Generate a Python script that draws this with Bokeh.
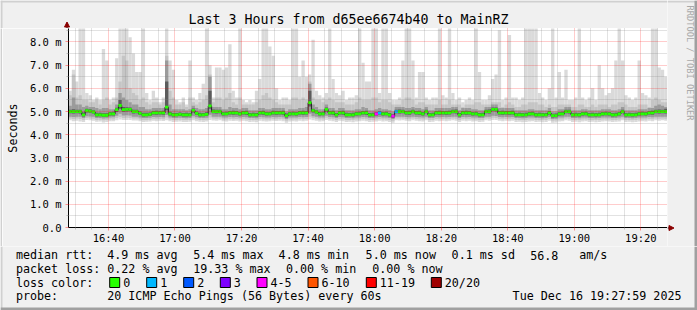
import math
import datetime as dt
from bokeh.plotting import figure
from bokeh.layouts import column, row
from bokeh.models import FixedTicker, DatetimeTickFormatter, Range1d, ColumnDataSource
from bokeh.core.properties import value
from bokeh.embed import file_html
from bokeh.resources import INLINE

# ---------------- data ----------------
TITLE = "Last 3 Hours from d65ee6674b40 to MainRZ"
WATERMARK = "RRDTOOL / TOBI OETIKER"
Y_LABEL = "Seconds"
START = dt.datetime(2025, 12, 16, 16, 28, 0)
STEP_SECONDS = 60
N_STEPS = 180

x_tick_labels = ["16:40", "17:00", "17:20", "17:40", "18:00", "18:20", "18:40", "19:00", "19:20"]
y_tick_values = [0, 1, 2, 3, 4, 5, 6, 7, 8]
y_tick_labels = ["0.0", "1.0 m", "2.0 m", "3.0 m", "4.0 m", "5.0 m", "6.0 m", "7.0 m", "8.0 m"]

# median round trip time per step (ms)
median_ms = [
    5.00, 5.00, 5.00, 5.00, 4.86, 5.04, 5.02, 4.98, 4.86, 4.86,
    4.84, 4.84, 4.90, 4.90, 5.08, 5.26, 5.08, 5.09, 5.09, 5.00,
    5.00, 4.92, 4.86, 4.86, 4.88, 4.94, 4.94, 4.94, 4.94, 5.19,
    4.90, 4.86, 4.86, 4.88, 4.86, 4.86, 4.86, 5.05, 4.92, 4.86,
    4.86, 4.88, 5.24, 5.00, 5.00, 5.00, 4.90, 4.90, 4.94, 4.94,
    4.94, 4.90, 4.94, 4.94, 4.86, 4.86, 4.86, 4.94, 4.94, 4.90,
    4.90, 4.94, 4.94, 4.94, 4.94, 4.82, 4.90, 4.90, 4.90, 4.94,
    4.94, 4.94, 5.38, 5.04, 4.98, 4.90, 4.90, 5.09, 4.94, 4.94,
    4.86, 4.94, 4.94, 4.86, 4.86, 4.86, 4.90, 4.90, 4.94, 4.94,
    4.86, 4.86, 4.90, 4.94, 4.90, 4.90, 4.86, 4.80, 5.00, 5.00,
    5.00, 4.94, 4.94, 5.00, 4.94, 4.94, 4.90, 5.00, 4.86, 4.86,
    4.94, 4.94, 4.94, 4.94, 4.94, 5.00, 5.00, 4.86, 4.94, 4.94,
    4.94, 4.90, 4.90, 4.86, 4.86, 5.00, 5.00, 5.09, 5.09, 4.94,
    4.94, 4.94, 4.94, 4.94, 4.86, 4.86, 4.86, 4.86, 4.90, 4.90,
    4.86, 4.86, 4.86, 4.86, 4.94, 4.82, 4.82, 4.90, 4.90, 5.00,
    5.00, 4.86, 4.86, 4.86, 4.90, 4.90, 4.86, 4.86, 4.86, 4.86,
    4.90, 4.90, 4.90, 4.86, 4.86, 4.90, 5.00, 4.86, 4.86, 4.86,
    4.86, 4.90, 4.90, 4.90, 4.94, 4.94, 5.00, 5.00, 5.00, 5.00,
]

# lost packets (of 20) at the steps where loss occurred
loss_events = {92: 4, 93: 1, 97: 4, 98: 1}

# smoke: highest ping per step (lightest band top), ms
smoke_max = [
    5.9, 6.8, 6.3, 9.0, 9.0, 5.8, 5.7, 5.5, 5.6, 5.5,
    7.7, 7.2, 5.5, 5.6, 7.3, 9.0, 9.0, 9.0, 8.2, 7.5,
    6.7, 6.7, 9.0, 5.8, 5.5, 5.9, 5.6, 5.4, 5.6, 9.0,
    7.2, 6.8, 5.5, 5.4, 5.6, 5.3, 7.2, 5.6, 5.5, 5.8,
    6.2, 9.0, 7.0, 5.6, 6.9, 6.9, 6.8, 6.9, 7.9, 5.9,
    5.6, 9.0, 5.5, 5.4, 5.5, 5.4, 5.9, 6.4, 9.0, 9.0,
    7.8, 7.4, 6.0, 5.5, 5.6, 5.6, 5.5, 9.0, 9.0, 6.5,
    7.2, 6.5, 6.6, 8.1, 5.9, 5.7, 5.6, 5.8, 9.0, 6.4,
    5.8, 5.7, 5.9, 5.5, 5.6, 5.6, 5.7, 9.0, 7.1, 6.3,
    6.3, 9.0, 9.0, 5.8, 9.0, 9.0, 5.8, 5.5, 5.5, 5.6,
    7.2, 9.0, 9.0, 7.2, 5.6, 6.7, 6.7, 5.6, 5.5, 5.6,
    5.6, 9.0, 5.7, 5.6, 9.0, 5.8, 5.5, 5.6, 5.4, 5.5,
    5.6, 5.5, 9.0, 6.7, 5.5, 5.5, 5.7, 6.4, 6.6, 8.5,
    5.5, 5.6, 8.3, 5.6, 5.6, 5.5, 5.6, 9.0, 9.0, 9.0,
    9.0, 5.8, 5.6, 5.5, 6.0, 9.0, 5.6, 6.7, 5.6, 6.8,
    5.5, 5.5, 5.6, 9.0, 5.6, 5.5, 5.6, 6.0, 5.5, 7.0,
    6.0, 5.7, 5.8, 6.0, 7.2, 9.0, 7.2, 5.7, 5.6, 5.5,
    5.6, 7.2, 5.8, 5.7, 5.6, 9.0, 9.0, 6.9, 6.8, 6.5,
]
# second band top
smoke_hi2 = [
    5.7, 6.6, 5.6, 5.7, 5.5, 5.5, 5.4, 5.4, 5.5, 5.3,
    5.5, 5.6, 5.3, 5.4, 5.6, 6.3, 7.4, 7.2, 6.0, 5.8,
    5.7, 5.5, 5.6, 5.4, 5.3, 5.4, 5.4, 5.3, 5.4, 7.4,
    5.9, 5.6, 5.3, 5.3, 5.4, 5.2, 5.6, 5.4, 5.3, 5.4,
    5.5, 5.7, 6.6, 5.4, 5.6, 5.6, 5.5, 5.6, 5.8, 5.4,
    5.3, 5.6, 5.3, 5.3, 5.3, 5.3, 5.4, 5.5, 5.7, 5.8,
    5.6, 5.5, 5.4, 5.3, 5.3, 5.3, 5.3, 5.6, 5.6, 5.5,
    5.6, 5.5, 6.3, 5.6, 5.5, 5.5, 5.4, 5.5, 5.6, 5.5,
    5.4, 5.4, 5.4, 5.3, 5.3, 5.3, 5.4, 5.6, 5.5, 5.5,
    5.5, 5.6, 5.6, 5.4, 5.5, 5.5, 5.4, 5.3, 5.3, 5.3,
    5.5, 5.6, 5.6, 5.5, 5.3, 5.4, 5.4, 5.3, 5.3, 5.3,
    5.3, 5.5, 5.3, 5.3, 5.5, 5.3, 5.3, 5.3, 5.2, 5.3,
    5.3, 5.3, 5.4, 5.4, 5.3, 5.3, 5.3, 5.4, 5.4, 5.4,
    5.2, 5.3, 5.4, 5.3, 5.2, 5.2, 5.3, 5.3, 5.4, 5.4,
    5.4, 5.3, 5.3, 5.2, 5.3, 5.2, 5.2, 5.3, 5.3, 5.3,
    5.3, 5.2, 5.2, 5.3, 5.3, 5.2, 5.2, 5.3, 5.2, 5.3,
    5.3, 5.3, 5.2, 5.3, 5.3, 5.4, 5.4, 5.3, 5.2, 5.2,
    5.2, 5.3, 5.3, 5.3, 5.2, 5.5, 5.6, 5.5, 5.4, 5.4,
]
# third band top
smoke_hi3 = [
    5.25, 5.6, 5.3, 5.3, 5.2, 5.25, 5.2, 5.2, 5.15, 5.1,
    5.15, 5.15, 5.1, 5.1, 5.3, 5.8, 5.6, 5.5, 5.4, 5.3,
    5.3, 5.2, 5.2, 5.1, 5.1, 5.15, 5.15, 5.15, 5.15, 7.2,
    5.3, 5.1, 5.1, 5.1, 5.1, 5.05, 5.1, 5.25, 5.15, 5.1,
    5.1, 5.15, 6.5, 5.2, 5.2, 5.2, 5.1, 5.1, 5.2, 5.15,
    5.15, 5.1, 5.15, 5.15, 5.05, 5.05, 5.05, 5.15, 5.15, 5.1,
    5.1, 5.15, 5.15, 5.15, 5.15, 5.0, 5.1, 5.1, 5.1, 5.15,
    5.15, 5.2, 6.2, 5.3, 5.2, 5.1, 5.1, 5.3, 5.15, 5.15,
    5.05, 5.15, 5.15, 5.05, 5.05, 5.05, 5.1, 5.1, 5.2, 5.15,
    5.05, 5.05, 5.1, 5.15, 5.1, 5.1, 5.05, 5.0, 5.2, 5.2,
    5.2, 5.15, 5.15, 5.2, 5.15, 5.15, 5.1, 5.2, 5.05, 5.05,
    5.15, 5.15, 5.15, 5.15, 5.15, 5.2, 5.2, 5.05, 5.15, 5.15,
    5.15, 5.1, 5.1, 5.05, 5.05, 5.2, 5.2, 5.3, 5.3, 5.15,
    5.15, 5.15, 5.15, 5.15, 5.05, 5.05, 5.05, 5.05, 5.1, 5.1,
    5.05, 5.05, 5.05, 5.05, 5.15, 5.0, 5.0, 5.1, 5.1, 5.2,
    5.2, 5.05, 5.05, 5.05, 5.1, 5.1, 5.05, 5.05, 5.05, 5.05,
    5.1, 5.1, 5.1, 5.05, 5.05, 5.1, 5.2, 5.05, 5.05, 5.05,
    5.05, 5.1, 5.1, 5.1, 5.15, 5.15, 5.25, 5.3, 5.25, 5.2,
]
# dark core top
smoke_hi4 = [
    5.08, 5.10, 5.08, 5.08, 4.96, 5.12, 5.10, 5.06, 4.95, 4.95,
    4.93, 4.93, 4.98, 4.99, 5.16, 5.50, 5.20, 5.18, 5.17, 5.08,
    5.08, 5.00, 4.95, 4.95, 4.96, 5.02, 5.03, 5.02, 5.03, 6.30,
    4.99, 4.94, 4.94, 4.96, 4.94, 4.95, 4.94, 5.13, 5.00, 4.95,
    4.94, 4.97, 5.90, 5.09, 5.08, 5.08, 4.98, 4.99, 5.02, 5.03,
    5.02, 4.98, 5.02, 5.03, 4.94, 4.95, 4.94, 5.02, 5.03, 4.98,
    4.98, 5.03, 5.02, 5.02, 5.03, 4.91, 4.98, 4.99, 4.98, 5.02,
    5.03, 5.02, 5.90, 5.12, 5.06, 4.98, 4.99, 5.17, 5.02, 5.03,
    4.94, 5.02, 5.03, 4.95, 4.94, 4.95, 4.98, 4.99, 5.02, 5.03,
    4.94, 4.95, 4.98, 5.02, 4.98, 4.99, 4.94, 4.88, 5.08, 5.09,
    5.08, 5.02, 5.03, 5.08, 5.02, 5.03, 4.98, 5.08, 4.94, 4.95,
    5.02, 5.03, 5.02, 5.02, 5.03, 5.08, 5.09, 4.94, 5.02, 5.03,
    5.02, 4.98, 4.99, 4.94, 4.95, 5.08, 5.09, 5.17, 5.17, 5.02,
    5.03, 5.02, 5.02, 5.03, 4.94, 4.95, 4.94, 4.95, 4.98, 4.99,
    4.94, 4.95, 4.94, 4.94, 5.02, 4.90, 4.91, 4.98, 4.99, 5.08,
    5.08, 4.94, 4.95, 4.94, 4.98, 4.99, 4.94, 4.95, 4.94, 4.95,
    4.98, 4.99, 4.98, 4.94, 4.95, 4.98, 5.08, 4.94, 4.95, 4.94,
    4.95, 4.98, 4.99, 4.98, 5.02, 5.03, 5.08, 5.09, 5.08, 5.12,
]
# dark core bottom
smoke_lo4 = [
    4.93, 4.92, 4.93, 4.92, 4.79, 4.96, 4.95, 4.91, 4.79, 4.80,
    4.77, 4.78, 4.83, 4.83, 4.98, 5.12, 4.99, 5.00, 5.01, 4.92,
    4.93, 4.85, 4.79, 4.80, 4.81, 4.87, 4.86, 4.87, 4.86, 5.06,
    4.83, 4.79, 4.80, 4.81, 4.79, 4.79, 4.80, 4.96, 4.85, 4.79,
    4.80, 4.81, 5.12, 4.93, 4.92, 4.93, 4.83, 4.84, 4.87, 4.86,
    4.87, 4.83, 4.87, 4.86, 4.79, 4.80, 4.79, 4.87, 4.86, 4.83,
    4.84, 4.87, 4.86, 4.87, 4.86, 4.74, 4.83, 4.84, 4.83, 4.87,
    4.86, 4.87, 5.22, 4.96, 4.91, 4.83, 4.84, 5.00, 4.87, 4.86,
    4.79, 4.87, 4.86, 4.79, 4.80, 4.79, 4.83, 4.84, 4.87, 4.86,
    4.79, 4.80, 4.83, 4.87, 4.83, 4.84, 4.79, 4.72, 4.93, 4.92,
    4.93, 4.87, 4.86, 4.93, 4.87, 4.86, 4.83, 4.93, 4.79, 4.80,
    4.87, 4.86, 4.87, 4.86, 4.87, 4.93, 4.92, 4.79, 4.87, 4.86,
    4.87, 4.83, 4.84, 4.79, 4.80, 4.93, 4.92, 5.01, 5.00, 4.87,
    4.86, 4.87, 4.86, 4.87, 4.79, 4.80, 4.79, 4.80, 4.83, 4.84,
    4.79, 4.80, 4.79, 4.80, 4.87, 4.74, 4.75, 4.83, 4.84, 4.93,
    4.92, 4.79, 4.80, 4.79, 4.83, 4.84, 4.79, 4.80, 4.79, 4.80,
    4.83, 4.84, 4.83, 4.79, 4.80, 4.83, 4.93, 4.79, 4.80, 4.79,
    4.80, 4.83, 4.84, 4.83, 4.87, 4.86, 4.93, 4.92, 4.93, 4.92,
]
# third band bottom
smoke_lo3 = [
    4.78, 4.76, 4.78, 4.77, 4.72, 4.80, 4.79, 4.77, 4.72, 4.72,
    4.70, 4.71, 4.74, 4.75, 4.82, 4.90, 4.83, 4.84, 4.83, 4.78,
    4.78, 4.74, 4.72, 4.72, 4.73, 4.76, 4.75, 4.76, 4.75, 4.85,
    4.74, 4.72, 4.72, 4.73, 4.72, 4.71, 4.72, 4.80, 4.75, 4.72,
    4.72, 4.73, 4.86, 4.78, 4.77, 4.78, 4.74, 4.74, 4.76, 4.75,
    4.76, 4.74, 4.76, 4.75, 4.72, 4.72, 4.71, 4.76, 4.75, 4.74,
    4.74, 4.76, 4.75, 4.76, 4.75, 4.68, 4.74, 4.74, 4.74, 4.76,
    4.75, 4.76, 4.90, 4.80, 4.77, 4.74, 4.74, 4.82, 4.76, 4.75,
    4.72, 4.76, 4.75, 4.72, 4.72, 4.71, 4.74, 4.74, 4.76, 4.75,
    4.72, 4.72, 4.74, 4.76, 4.74, 4.74, 4.72, 4.68, 4.78, 4.78,
    4.78, 4.76, 4.75, 4.78, 4.76, 4.75, 4.74, 4.78, 4.72, 4.72,
    4.76, 4.75, 4.76, 4.75, 4.76, 4.78, 4.77, 4.72, 4.76, 4.75,
    4.76, 4.74, 4.74, 4.72, 4.72, 4.78, 4.77, 4.82, 4.81, 4.76,
    4.75, 4.76, 4.75, 4.76, 4.72, 4.72, 4.71, 4.72, 4.74, 4.74,
    4.72, 4.72, 4.71, 4.72, 4.76, 4.68, 4.69, 4.74, 4.74, 4.78,
    4.77, 4.72, 4.72, 4.71, 4.74, 4.74, 4.72, 4.72, 4.71, 4.72,
    4.74, 4.74, 4.74, 4.72, 4.72, 4.74, 4.78, 4.72, 4.72, 4.71,
    4.72, 4.74, 4.74, 4.74, 4.76, 4.75, 4.78, 4.77, 4.78, 4.77,
]
# second band bottom
smoke_lo2 = [
    4.70, 4.68, 4.70, 4.68, 4.64, 4.72, 4.70, 4.69, 4.64, 4.65,
    4.62, 4.63, 4.66, 4.66, 4.72, 4.76, 4.72, 4.73, 4.72, 4.70,
    4.70, 4.66, 4.64, 4.64, 4.65, 4.68, 4.67, 4.68, 4.67, 4.74,
    4.66, 4.64, 4.64, 4.65, 4.64, 4.63, 4.64, 4.71, 4.67, 4.64,
    4.64, 4.65, 4.74, 4.70, 4.69, 4.70, 4.66, 4.66, 4.68, 4.67,
    4.68, 4.66, 4.68, 4.67, 4.64, 4.64, 4.63, 4.68, 4.67, 4.66,
    4.66, 4.68, 4.67, 4.68, 4.67, 4.60, 4.66, 4.66, 4.66, 4.68,
    4.67, 4.68, 4.78, 4.72, 4.69, 4.66, 4.66, 4.73, 4.68, 4.67,
    4.64, 4.68, 4.67, 4.64, 4.64, 4.63, 4.66, 4.66, 4.68, 4.67,
    4.64, 4.64, 4.66, 4.68, 4.66, 4.66, 4.64, 4.60, 4.70, 4.70,
    4.70, 4.68, 4.67, 4.70, 4.68, 4.67, 4.66, 4.70, 4.64, 4.64,
    4.68, 4.67, 4.68, 4.67, 4.68, 4.70, 4.69, 4.64, 4.68, 4.67,
    4.68, 4.66, 4.66, 4.64, 4.64, 4.70, 4.69, 4.73, 4.72, 4.68,
    4.67, 4.68, 4.67, 4.68, 4.64, 4.64, 4.63, 4.64, 4.66, 4.66,
    4.64, 4.64, 4.63, 4.64, 4.68, 4.60, 4.61, 4.66, 4.66, 4.70,
    4.69, 4.64, 4.64, 4.63, 4.66, 4.66, 4.64, 4.64, 4.63, 4.64,
    4.66, 4.66, 4.66, 4.64, 4.64, 4.66, 4.70, 4.64, 4.64, 4.63,
    4.64, 4.66, 4.66, 4.66, 4.68, 4.67, 4.70, 4.69, 4.70, 4.69,
]
# lowest ping per step (lightest band bottom)
smoke_min = [
    4.62, 4.58, 4.60, 4.57, 4.55, 4.63, 4.62, 4.60, 4.56, 4.57,
    4.53, 4.55, 4.58, 4.58, 4.62, 4.66, 4.63, 4.64, 4.63, 4.61,
    4.61, 4.58, 4.55, 4.56, 4.57, 4.60, 4.58, 4.60, 4.59, 4.62,
    4.58, 4.55, 4.56, 4.57, 4.55, 4.55, 4.56, 4.62, 4.58, 4.56,
    4.55, 4.57, 4.63, 4.61, 4.60, 4.62, 4.58, 4.57, 4.60, 4.59,
    4.60, 4.57, 4.60, 4.58, 4.55, 4.56, 4.54, 4.60, 4.58, 4.57,
    4.58, 4.60, 4.59, 4.60, 4.58, 4.52, 4.57, 4.58, 4.57, 4.60,
    4.58, 4.60, 4.66, 4.62, 4.60, 4.57, 4.58, 4.63, 4.60, 4.58,
    4.55, 4.60, 4.58, 4.55, 4.56, 4.54, 4.57, 4.58, 4.60, 4.58,
    4.55, 4.56, 4.57, 4.60, 4.57, 4.58, 4.55, 4.52, 4.62, 4.61,
    4.62, 4.60, 4.58, 4.62, 4.60, 4.58, 4.57, 4.62, 4.55, 4.56,
    4.60, 4.58, 4.60, 4.58, 4.60, 4.62, 4.60, 4.55, 4.60, 4.58,
    4.60, 4.57, 4.58, 4.55, 4.56, 4.62, 4.60, 4.64, 4.63, 4.60,
    4.58, 4.60, 4.58, 4.60, 4.55, 4.56, 4.54, 4.55, 4.57, 4.58,
    4.55, 4.56, 4.54, 4.55, 4.60, 4.52, 4.53, 4.57, 4.58, 4.62,
    4.60, 4.55, 4.56, 4.54, 4.57, 4.58, 4.55, 4.56, 4.54, 4.55,
    4.57, 4.58, 4.57, 4.55, 4.56, 4.57, 4.62, 4.55, 4.56, 4.54,
    4.55, 4.57, 4.58, 4.57, 4.60, 4.58, 4.62, 4.60, 4.62, 4.60,
]

loss_class_labels = ["0", "1", "2", "3", "4-5", "6-10", "11-19", "20/20"]
loss_class_colors = ["#26ff00", "#00b8ff", "#0059ff", "#7e00ff", "#ff00ff", "#ff5500", "#ff0000", "#a00000"]

stats_rtt = ["4.9 ms avg", "5.4 ms max", "4.8 ms min", "5.0 ms now", "0.1 ms sd", "56.8", "am/s"]
stats_loss = ["0.22 % avg", "19.33 % max", "0.00 % min", "0.00 % now"]
probe_text = "20 ICMP Echo Pings (56 Bytes) every 60s"
timestamp_text = "Tue Dec 16 19:27:59 2025"

# ---------------- derived ----------------
EPOCH = dt.datetime(1970, 1, 1)
END = START + dt.timedelta(seconds=STEP_SECONDS * N_STEPS)


def ms(t):
    return (t - EPOCH).total_seconds() * 1000.0


def loss_class(n):
    if n <= 3:
        return n
    if n <= 5:
        return 4
    if n <= 10:
        return 5
    if n <= 19:
        return 6
    return 7


lefts = [START + dt.timedelta(seconds=STEP_SECONDS * k) for k in range(N_STEPS)]
rights = [t + dt.timedelta(seconds=STEP_SECONDS) for t in lefts]
loss_colors = [loss_class_colors[loss_class(loss_events.get(k, 0))] for k in range(N_STEPS)]

Y_TOP = 8.58
FONT = "DejaVu Sans Mono"
BG = "#f0f0f0"
SHADE_A = "#d0d0d0"
SHADE_B = "#a0a0a0"
ARROW_C = "#8b0000"

# ---------------- main graph (canvas x 2..667, y 28..246) ----------------
p = figure(width=665, height=218, x_axis_type="datetime",
           x_range=Range1d(ms(START), ms(END)), y_range=Range1d(0, Y_TOP),
           toolbar_location=None, output_backend="svg", title=None,
           min_border_left=65, min_border_right=0, min_border_top=0, min_border_bottom=18,
           background_fill_color="white", border_fill_color=BG, frame_align=False)
p.outline_line_color = None

src = ColumnDataSource(dict(left=lefts, right=rights, median=median_ms,
                            mx=smoke_max, h2=smoke_hi2, h3=smoke_hi3, h4=smoke_hi4,
                            l4=smoke_lo4, l3=smoke_lo3, l2=smoke_lo2, mn=smoke_min,
                            lc=loss_colors,
                            blob_lo=[m - 0.06 for m in median_ms],
                            blob_hi=[m + 0.06 for m in median_ms]))

p.quad(left="left", right="right", bottom="mn", top="mx", source=src,
       fill_color="#dadada", line_color=None)
p.quad(left="left", right="right", bottom="l2", top="h2", source=src,
       fill_color="#c5c5c5", line_color=None)
p.quad(left="left", right="right", bottom="l3", top="h3", source=src,
       fill_color="#9b9b9b", line_color=None)
p.quad(left="left", right="right", bottom="l4", top="h4", source=src,
       fill_color="#5c5c5c", line_color=None)
p.step(x=lefts + [END], y=median_ms + [median_ms[-1]], mode="after",
       line_color="#202020", line_width=1)
p.quad(left="left", right="right", bottom="blob_lo", top="blob_hi", source=src,
       fill_color="lc", line_color=None)

x_major = []
for lab in x_tick_labels:
    h, m = map(int, lab.split(":"))
    x_major.append(ms(START.replace(hour=h, minute=m)))
x_minor = []
t = START
while t <= END:
    if t.minute % 5 == 0 and ms(t) not in x_major:
        x_minor.append(ms(t))
    t += dt.timedelta(minutes=1)
xt = FixedTicker(ticks=x_major, minor_ticks=x_minor)
yt = FixedTicker(ticks=y_tick_values, minor_ticks=[v + 0.5 for v in y_tick_values])
p.xaxis.ticker = xt
p.xgrid.ticker = xt
p.yaxis.ticker = yt
p.ygrid.ticker = yt
p.xaxis.formatter = DatetimeTickFormatter(minutes="%H:%M", hourmin="%H:%M", hours="%H:%M",
                                          minsec="%H:%M", seconds="%H:%M")
p.yaxis.major_label_overrides = dict(zip(y_tick_values, y_tick_labels))

for g in (p.xgrid, p.ygrid):
    g.grid_line_color = "#ff0000"
    g.grid_line_alpha = 0.4
    g.grid_line_dash = "1 1"
    g.minor_grid_line_color = "#7f7f7f"
    g.minor_grid_line_alpha = 0.45
    g.minor_grid_line_dash = "1 1"
    g.level = "overlay"

for ax in (p.xaxis, p.yaxis):
    ax.axis_line_color = "black"
    ax.axis_line_width = 1
    ax.major_label_text_font = FONT
    ax.major_label_text_font_size = "10.5px"
    ax.major_label_text_color = "black"
    ax.major_tick_in = 0
    ax.major_tick_out = 3
    ax.major_tick_line_color = "#ff0000"
    ax.major_tick_line_alpha = 0.4
    ax.minor_tick_in = 0
    ax.minor_tick_out = 2
    ax.minor_tick_line_color = "#808080"
    ax.minor_tick_line_alpha = 0.45
p.xaxis.major_label_standoff = 1
p.yaxis.major_label_standoff = 4
p.yaxis.axis_label = Y_LABEL
p.yaxis.axis_label_text_font = FONT
p.yaxis.axis_label_text_font_size = "11.7px"
p.yaxis.axis_label_text_font_style = "normal"
p.yaxis.axis_label_text_color = "black"
p.yaxis.axis_label_standoff = 7


# ---------------- pixel-space helper figures for the surrounding canvas ----------------
def pixel_fig(x0, x1, y0, y1):
    f = figure(width=x1 - x0, height=y1 - y0,
               x_range=Range1d(x0, x1), y_range=Range1d(y1, y0),
               toolbar_location=None, output_backend="svg", title=None,
               min_border_left=0, min_border_right=0, min_border_top=0, min_border_bottom=0,
               x_axis_location=None, y_axis_location=None,
               background_fill_color=BG, border_fill_color=BG, frame_align=False)
    f.outline_line_color = None
    f.grid.visible = False
    return f


def txt(f, xs, ys, texts, size="11.7px", align="left", color="black", angle=0.0):
    f.text(x=xs, y=ys, text=texts, text_font=value(FONT), text_font_size=value(size),
           text_align=align, text_baseline="middle", text_color=color, angle=angle)


# top strip: title + y-axis arrow head
top = pixel_fig(0, 667, 0, 28)
txt(top, [348], [18.5], [TITLE], size="13.3px", align="center")
top.segment(x0=[66.5], y0=[22.5], x1=[66.5], y1=[28], line_color="black", line_width=1)
top.patch(x=[64.0, 66.5, 69.0], y=[26.5, 21.5, 26.5], fill_color=ARROW_C, line_color=ARROW_C)
top.quad(left=[0], right=[667], top=[0], bottom=[2], fill_color=SHADE_A, line_color=None)
top.quad(left=[0], right=[2], top=[0], bottom=[28], fill_color=SHADE_A, line_color=None)

# left strip of the graph row (canvas shading)
lstrip = pixel_fig(0, 2, 28, 246)
lstrip.quad(left=[0], right=[2], top=[28], bottom=[246], fill_color=SHADE_A, line_color=None)

# right strip: watermark + x-axis arrow head
side = pixel_fig(667, 697, 0, 246)
txt(side, [689.5], [5], [WATERMARK], size="8.7px", color="#a8a8a8", angle=-math.pi / 2)
side.segment(x0=[667], y0=[227.5], x1=[669], y1=[227.5], line_color="black", line_width=1)
side.patch(x=[668.5, 673.5, 668.5], y=[225.0, 227.5, 230.0], fill_color=ARROW_C, line_color=ARROW_C)
side.quad(left=[667], right=[697], top=[0], bottom=[2], fill_color=SHADE_A, line_color=None)
side.quad(left=[694], right=[697], top=[0], bottom=[246], fill_color=SHADE_B, line_color=None)

# bottom strip: legend
leg = pixel_fig(0, 697, 246, 310)
row_y = [254.5, 268.5, 282.0, 295.5]
txt(leg, [15.4, 15.4, 15.4, 15.4], row_y, ["median rtt:", "packet loss:", "loss color:", "probe:"])
txt(leg, [106.7, 192.7, 278.1, 365.1, 451.1, 529.7, 578.7], [row_y[0]] * 7, stats_rtt)
txt(leg, [106.7, 192.7, 285.4, 371.7], [row_y[1]] * 4, stats_loss)
sw_x = [108.7, 145.7, 182.7, 219.3, 256.0, 307.0, 365.3, 430.3]
leg.quad(left=[x + 0.5 for x in sw_x], right=[x + 10.5 for x in sw_x],
         top=[row_y[2] - 5.0] * 8, bottom=[row_y[2] + 5.0] * 8,
         fill_color=loss_class_colors, line_color="black", line_width=1)
txt(leg, [x + 14 for x in sw_x], [row_y[2]] * 8, loss_class_labels)
txt(leg, [106.7], [row_y[3]], [probe_text])
txt(leg, [681], [row_y[3]], [timestamp_text], align="right")
leg.quad(left=[0], right=[2], top=[246], bottom=[310], fill_color=SHADE_A, line_color=None)
leg.quad(left=[0], right=[697], top=[307], bottom=[310], fill_color=SHADE_B, line_color=None)
leg.quad(left=[694], right=[697], top=[246], bottom=[310], fill_color=SHADE_B, line_color=None)

graph_col = column(top, row(lstrip, p, spacing=0), spacing=0)
layout = column(row(graph_col, side, spacing=0), leg, spacing=0)

open("out.html", "w").write(file_html(layout, INLINE))
